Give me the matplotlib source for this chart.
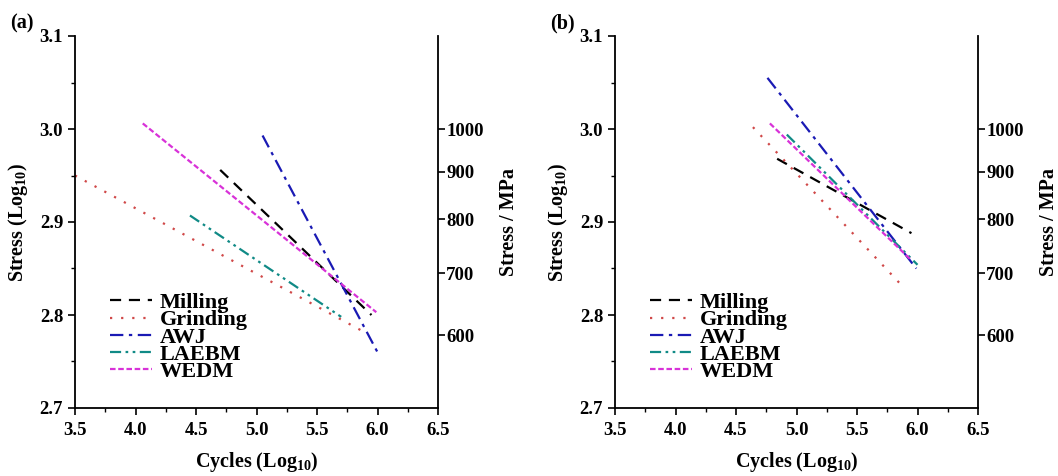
import numpy as np
import matplotlib
matplotlib.use("Agg")
import matplotlib.pyplot as plt
from matplotlib.ticker import MultipleLocator, FixedLocator, FixedFormatter, NullLocator

plt.rcParams['font.family'] = ['Liberation Serif', 'DejaVu Serif']
plt.rcParams['font.weight'] = 'bold'
plt.rcParams['mathtext.fontset'] = 'custom'
plt.rcParams['mathtext.rm'] = 'Liberation Serif:bold'
plt.rcParams['mathtext.bf'] = 'Liberation Serif:bold'

# S-N lines, endpoints (log10 cycles, log10 stress)
methods = ['Milling', 'Grinding', 'AWJ', 'LAEBM', 'WEDM']

a_cycles = {
    'Milling': [4.70, 5.95],
    'Grinding': [3.50, 5.90],
    'AWJ': [5.05, 6.00],
    'LAEBM': [4.45, 5.70],
    'WEDM': [4.06, 5.99],
}
a_stress = {
    'Milling': [2.956, 2.800],
    'Grinding': [2.950, 2.781],
    'AWJ': [2.993, 2.760],
    'LAEBM': [2.907, 2.798],
    'WEDM': [3.006, 2.803],
}

b_cycles = {
    'Milling': [4.84, 5.95],
    'Grinding': [4.64, 5.89],
    'AWJ': [4.76, 5.99],
    'LAEBM': [4.92, 6.00],
    'WEDM': [4.78, 5.94],
}
b_stress = {
    'Milling': [2.968, 2.888],
    'Grinding': [3.002, 2.829],
    'AWJ': [3.055, 2.850],
    'LAEBM': [2.994, 2.854],
    'WEDM': [3.006, 2.860],
}

mpa_ticks = [600, 700, 800, 900, 1000]

colors = {'Milling': 'black', 'Grinding': '#d04848', 'AWJ': '#1a1ab4',
          'LAEBM': '#108a86', 'WEDM': '#d832d8'}
styles = {'Milling': (0, (5, 3.5)), 'Grinding': (0, (1, 4)),
          'AWJ': (0, (6, 2.5, 1.5, 2.5)), 'LAEBM': (0, (5, 2, 1.2, 2, 1.2, 2)),
          'WEDM': (0, (2.5, 1.2))}

fig = plt.figure(figsize=(10.58, 4.76), dpi=100)

panels = [('(a)', a_cycles, a_stress, 75), ('(b)', b_cycles, b_stress, 615)]

for tag, cyc, st, left_px in panels:
    ax = fig.add_axes([left_px / 1058, 1 - 408 / 476, 363 / 1058, 372 / 476])
    for m in methods:
        ax.plot(cyc[m], st[m], color=colors[m], linestyle=styles[m], lw=1.6, label=m)

    ax.set_xlim(3.5, 6.5)
    ax.set_ylim(2.7, 3.1)
    ax.xaxis.set_major_locator(MultipleLocator(0.5))
    ax.xaxis.set_minor_locator(MultipleLocator(0.25))
    ax.yaxis.set_major_locator(MultipleLocator(0.1))
    ax.yaxis.set_minor_locator(MultipleLocator(0.05))
    ax.xaxis.set_major_formatter(matplotlib.ticker.FormatStrFormatter('%.1f'))
    ax.yaxis.set_major_formatter(matplotlib.ticker.FormatStrFormatter('%.1f'))
    ax.tick_params(which='major', direction='out', length=5, width=1.2, labelsize=13.5)
    ax.tick_params(axis='x', pad=5)
    ax.tick_params(which='minor', direction='out', length=3, width=1)
    ax.spines['top'].set_visible(False)
    ax.spines['right'].set_visible(False)
    for s in ['left', 'bottom']:
        ax.spines[s].set_linewidth(1.3)

    ax.set_xlabel('Cycles (Log$_{10}$)', fontsize=14.5, fontweight='bold', labelpad=8)
    ax.set_ylabel('Stress (Log$_{10}$)', fontsize=14.5, fontweight='bold', labelpad=7)

    leg = ax.legend(loc='lower left', bbox_to_anchor=(0.065, 0.04), frameon=False,
                    prop={'size': 16, 'weight': 'bold'}, handlelength=1.9,
                    labelspacing=-0.15, handletextpad=0.35, borderpad=0)

    axr = ax.twinx()
    axr.set_yscale('log')
    axr.set_ylim(10 ** 2.7, 10 ** 3.1)
    axr.yaxis.set_major_locator(FixedLocator(mpa_ticks))
    axr.yaxis.set_major_formatter(FixedFormatter([str(v) for v in mpa_ticks]))
    axr.yaxis.set_minor_locator(NullLocator())
    axr.tick_params(which='major', direction='out', length=5, width=1.2, labelsize=13.5, pad=1)
    axr.spines['top'].set_visible(False)
    axr.spines['left'].set_visible(False)
    axr.spines['bottom'].set_visible(False)
    axr.spines['right'].set_linewidth(1.3)
    axr.set_ylabel('Stress / MPa', fontsize=14.5, fontweight='bold', labelpad=11)

    fig.text((left_px - 65) / 1058, 1 - 23 / 476, tag, fontsize=14.5, fontweight='bold',
             ha='left', va='center')

plt.savefig('out.png', dpi=100)
